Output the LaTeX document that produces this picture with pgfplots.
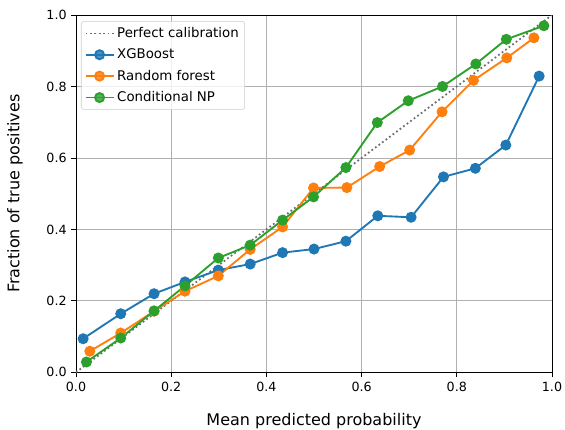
\documentclass[border=0pt]{standalone}
\usepackage{fontspec}
\setmainfont{DejaVu Sans}
\usepackage{pgfplots}
\pgfplotsset{compat=1.18}
\definecolor{mblue}{HTML}{1F77B4}
\definecolor{morange}{HTML}{FF7F0E}
\definecolor{mgreen}{HTML}{2CA02C}

\begin{document}
\begin{tikzpicture}
\useasboundingbox (-57pt,-42.75pt) rectangle (366.75pt,279.25pt);
\begin{axis}[
  scale only axis,
  width=357pt, height=268pt,
  xmin=0, xmax=1, ymin=0, ymax=1,
  xtick={0,0.2,...,1.0}, ytick={0,0.2,...,1.0},
  /pgf/number format/assume math mode=true,
  /pgf/number format/.cd, fixed, fixed zerofill, precision=1, /pgfplots/.cd,
  tick label style={font=\fontsize{9.5}{11}\selectfont},
  tick align=outside, major tick length=3.5pt,
  xtick pos=bottom, ytick pos=left,
  tick style={black, line width=0.6pt},
  axis line style={line width=0.6pt},
  grid=major,
  grid style={line width=0.6pt, black!31},
  xlabel={Mean predicted probability},
  ylabel={Fraction of true positives},
  label style={font=\fontsize{12}{14}\selectfont},
  xlabel style={at={(axis description cs:0.5,-0.137)}, anchor=center},
  ylabel style={at={(axis description cs:-0.128,0.5)}, anchor=center, rotate=0},
  legend style={at={(0.0105,0.983)}, anchor=north west, font=\fontsize{10}{12}\selectfont,
    draw=black!20, rounded corners=2pt, fill=white, fill opacity=0.8, text opacity=1,
    row sep=3pt, inner sep=2.5pt,
    /tikz/every even column/.append style={column sep=3pt}},
  legend cell align=left,
  legend image code/.code={%
    \draw[mark repeat=2,mark phase=2,#1] plot coordinates {(0cm,0cm) (0.37cm,0cm) (0.74cm,0cm)};},
  every axis plot/.append style={line width=1.4pt},
]
\addplot[black!58, dash pattern=on 1.3pt off 2pt, line width=1.3pt] coordinates {(0,0) (1,1)};
\addlegendentry{Perfect calibration}
\addplot[mblue, mark=*, mark size=3.4pt] coordinates {
(0.015,0.094) (0.094,0.164) (0.164,0.220) (0.229,0.253) (0.299,0.286) (0.366,0.303)
(0.434,0.335) (0.500,0.345) (0.567,0.367) (0.634,0.438) (0.704,0.434) (0.772,0.547)
(0.839,0.571) (0.903,0.636) (0.973,0.829)};
\addlegendentry{XGBoost}
\addplot[morange, mark=*, mark size=3.4pt] coordinates {
(0.029,0.059) (0.094,0.110) (0.164,0.171) (0.229,0.227) (0.299,0.270) (0.366,0.344)
(0.434,0.407) (0.499,0.516) (0.569,0.517) (0.638,0.576) (0.701,0.622) (0.769,0.729)
(0.835,0.817) (0.905,0.880) (0.962,0.936)};
\addlegendentry{Random forest}
\addplot[mgreen, mark=*, mark size=3.4pt] coordinates {
(0.022,0.029) (0.094,0.096) (0.164,0.172) (0.229,0.242) (0.299,0.320) (0.366,0.356)
(0.434,0.426) (0.499,0.491) (0.567,0.573) (0.633,0.699) (0.698,0.760) (0.770,0.800)
(0.840,0.863) (0.904,0.932) (0.983,0.970)};
\addlegendentry{Conditional NP}
\end{axis}
\end{tikzpicture}
\end{document}
